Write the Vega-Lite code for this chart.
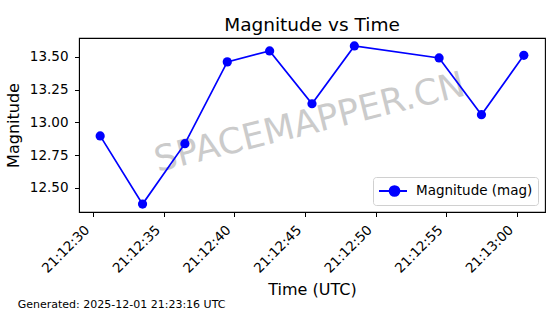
{
  "$schema": "https://vega.github.io/schema/vega-lite/v6.json",
  "width": 466,
  "height": 174,
  "autosize": {"type": "none"},
  "padding": {"left": 79, "top": 38, "right": 15, "bottom": 102},
  "background": "white",
  "title": {
    "text": "Magnitude vs Time",
    "fontSize": 18.5,
    "font": "DejaVu Sans",
    "fontWeight": "normal",
    "color": "black",
    "anchor": "middle",
    "baseline": "bottom",
    "offset": 3,
    "dy": 18
  },
  "config": {
    "font": "DejaVu Sans",
    "view": {"stroke": "black", "strokeWidth": 1.1},
    "axis": {
      "labelFont": "DejaVu Sans",
      "titleFont": "DejaVu Sans",
      "labelColor": "black",
      "titleColor": "black",
      "titleFontWeight": "normal",
      "domainColor": "black",
      "tickColor": "black",
      "gridColor": "#c8c8c8",
      "gridDash": [4, 2.5],
      "gridWidth": 0.9
    }
  },
  "layer": [
    {
      "data": {"values": [{"label": "SPACEMAPPER.CN"}]},
      "mark": {"type": "text", "fontSize": 35.5, "font": "DejaVu Sans", "fontWeight": "normal", "color": "#808080", "opacity": 0.4, "angle": -14, "align": "center", "baseline": "middle"},
      "encoding": {
        "x": {"datum": {"year": 2025, "month": 12, "date": 1, "hours": 21, "minutes": 12, "seconds": 45, "milliseconds": 340, "utc": true}, "type": "temporal"},
        "y": {"datum": 12.996, "type": "quantitative"},
        "text": {"field": "label"}
      }
    },
    {
      "data": {
        "values": [
          {"time": "2025-12-01T21:12:30.5Z", "magnitude": 12.896, "series": "Magnitude (mag)"},
          {"time": "2025-12-01T21:12:33.5Z", "magnitude": 12.375, "series": "Magnitude (mag)"},
          {"time": "2025-12-01T21:12:36.5Z", "magnitude": 12.837, "series": "Magnitude (mag)"},
          {"time": "2025-12-01T21:12:39.5Z", "magnitude": 13.462, "series": "Magnitude (mag)"},
          {"time": "2025-12-01T21:12:42.5Z", "magnitude": 13.546, "series": "Magnitude (mag)"},
          {"time": "2025-12-01T21:12:45.5Z", "magnitude": 13.142, "series": "Magnitude (mag)"},
          {"time": "2025-12-01T21:12:48.5Z", "magnitude": 13.584, "series": "Magnitude (mag)"},
          {"time": "2025-12-01T21:12:54.5Z", "magnitude": 13.492, "series": "Magnitude (mag)"},
          {"time": "2025-12-01T21:12:57.5Z", "magnitude": 13.058, "series": "Magnitude (mag)"},
          {"time": "2025-12-01T21:13:00.5Z", "magnitude": 13.512, "series": "Magnitude (mag)"}
        ]
      },
      "mark": {"type": "line", "color": "#0000ff", "strokeWidth": 1.7, "point": {"filled": true, "size": 85, "opacity": 1}},
      "encoding": {
        "x": {
          "field": "time",
          "type": "temporal",
          "scale": {
            "type": "utc",
            "domain": [
              {"year": 2025, "month": 12, "date": 1, "hours": 21, "minutes": 12, "seconds": 29, "utc": true},
              {"year": 2025, "month": 12, "date": 1, "hours": 21, "minutes": 13, "seconds": 2, "utc": true}
            ],
            "nice": false
          },
          "axis": {
            "title": "Time (UTC)",
            "titleFontSize": 16,
            "labelFontSize": 13.5,
            "format": "%H:%M:%S",
            "labelAngle": -45,
            "labelAlign": "right",
            "labelBaseline": "middle",
            "labelPadding": 11,
            "labelOffset": -6,
            "tickSize": 4.5,
            "titlePadding": 7,
            "labelOverlap": false,
            "labelFlush": false,
            "values": [
              {"year": 2025, "month": 12, "date": 1, "hours": 21, "minutes": 12, "seconds": 30, "utc": true},
              {"year": 2025, "month": 12, "date": 1, "hours": 21, "minutes": 12, "seconds": 35, "utc": true},
              {"year": 2025, "month": 12, "date": 1, "hours": 21, "minutes": 12, "seconds": 40, "utc": true},
              {"year": 2025, "month": 12, "date": 1, "hours": 21, "minutes": 12, "seconds": 45, "utc": true},
              {"year": 2025, "month": 12, "date": 1, "hours": 21, "minutes": 12, "seconds": 50, "utc": true},
              {"year": 2025, "month": 12, "date": 1, "hours": 21, "minutes": 12, "seconds": 55, "utc": true},
              {"year": 2025, "month": 12, "date": 1, "hours": 21, "minutes": 13, "seconds": 0, "utc": true}
            ]
          }
        },
        "y": {
          "field": "magnitude",
          "type": "quantitative",
          "scale": {"domain": [12.3145, 13.6445], "nice": false, "zero": false},
          "axis": {
            "title": "Magnitude",
            "titleFontSize": 16,
            "labelFontSize": 13.5,
            "format": ".2f",
            "values": [12.5, 12.75, 13.0, 13.25, 13.5],
            "tickSize": 4.5,
            "labelPadding": 6.5,
            "titlePadding": 8,
            "labelFlush": false
          }
        },
        "color": {
          "field": "series",
          "type": "nominal",
          "scale": {"range": ["#0000ff"]},
          "legend": {
            "title": null,
            "orient": "bottom-right",
            "offset": 7,
            "padding": 5,
            "symbolType": "M-1,0H2.5M1.56,0A0.62,0.62 0 1,1 0.32,0A0.62,0.62 0 1,1 1.56,0Z",
            "symbolSize": 256,
            "symbolFillColor": "#0000ff",
            "symbolStrokeColor": "#0000ff",
            "symbolStrokeWidth": 1.8,
            "labelFontSize": 13.5,
            "labelFont": "DejaVu Sans",
            "labelColor": "black",
            "labelOffset": 20,
            "strokeColor": "#d0d0d0",
            "fillColor": "rgba(255,255,255,0.8)",
            "cornerRadius": 3
          }
        }
      }
    },
    {
      "data": {"values": [{"note": "Generated: 2025-12-01 21:23:16 UTC"}]},
      "mark": {"type": "text", "fontSize": 11, "font": "DejaVu Sans", "fontWeight": "normal", "color": "black", "align": "left", "baseline": "alphabetic"},
      "encoding": {
        "x": {"datum": {"year": 2025, "month": 12, "date": 1, "hours": 21, "minutes": 12, "seconds": 24, "milliseconds": 660, "utc": true}, "type": "temporal"},
        "y": {"datum": 11.5775, "type": "quantitative"},
        "text": {"field": "note"}
      }
    }
  ]
}
